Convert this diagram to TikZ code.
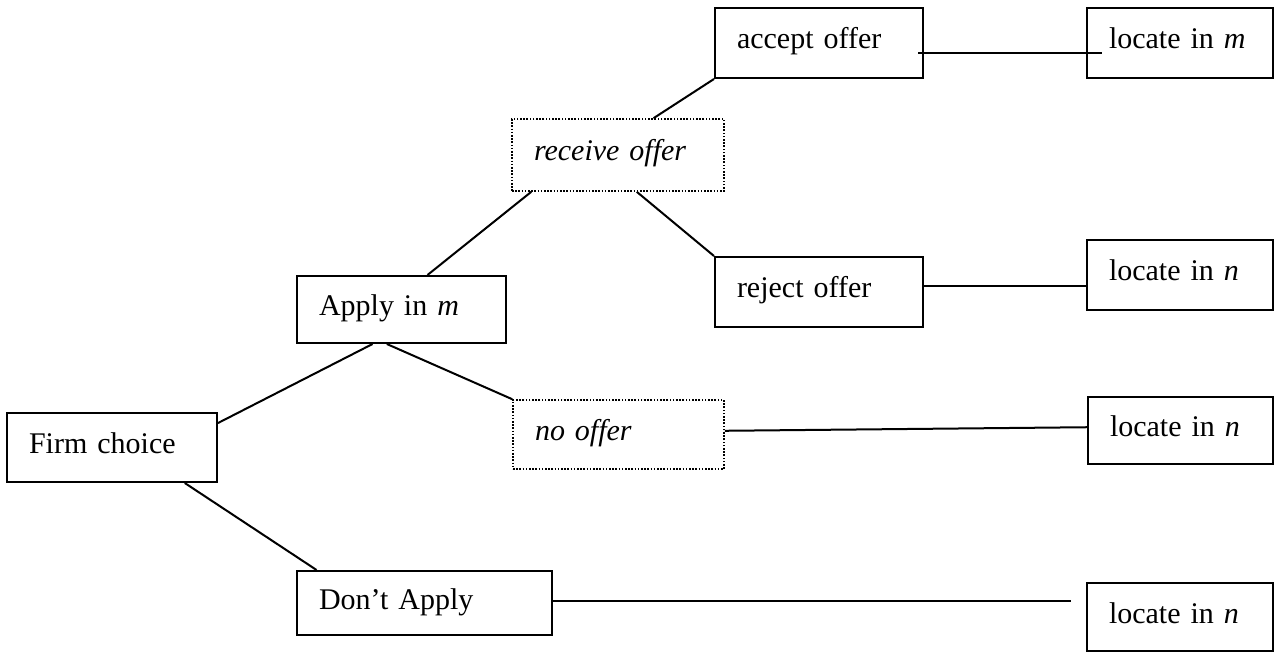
\documentclass[tikz,border=0pt]{standalone}
\usepackage{fontspec}
\setmainfont{Liberation Serif}
\usetikzlibrary{calc}

\begin{document}
\begin{tikzpicture}[x=0.5pt, y=-0.5pt,
        box/.style={draw, line width=1pt, rectangle, inner xsep=11pt, inner ysep=0pt,
            align=left, text height=12pt, text depth=6pt,
            font=\fontsize{15pt}{18pt}\selectfont},
        boxsize/.style 2 args={minimum width=#1pt, minimum height=#2pt, text width=#1pt-22pt},
        chance/.style={box, line width=0.8pt, dash pattern=on 0.8pt off 0.8pt},
        branch/.style={line width=1pt}]
        \useasboundingbox (0,0) rectangle (1274,652);
        % Draw the firm's own choices
        \node[box, boxsize={105}{34.5}] (firm) at (112,447.5) {Firm choice};
        \node[box, boxsize={104.5}{33.5}] (apply) at (401.5,309.5) {Apply in \textit{m}};
        \node[box, boxsize={127.5}{32}] (dont) at (424.5,603) {Don't Apply};
        % Draw the chance outcomes
        \node[chance, boxsize={106}{36}] (receive) at (618,155) {\textit{receive offer}};
        \node[chance, boxsize={105.5}{34.5}] (nooffer) at (618.5,434.5) {\textit{no offer}};
        \node[box, boxsize={104}{35}] (accept) at (819,43) {accept offer};
        \node[box, boxsize={104}{35}] (reject) at (819,292) {reject offer};
        % Draw the final locations
        \node[box, boxsize={93}{35}] (locm) at (1180,43) {locate in \textit{m}};
        \node[box, boxsize={93}{35}] (locn1) at (1180,275) {locate in \textit{n}};
        \node[box, boxsize={92.5}{33.5}] (locn2) at (1180.5,430.5) {locate in \textit{n}};
        \node[box, boxsize={93}{34}] (locn3) at (1180,617) {locate in \textit{n}};

        % Draw the branches
        \draw[branch] (firm.13) -- (apply.230);
        \draw[branch] (firm.-26) -- (dont.163);
        \draw[branch] (apply.53) -- (receive.203);
        \draw[branch] (apply.247) -- (nooffer.north west);
        \draw[branch] (receive.46) -- (accept.south west);
        \draw[branch] (receive.-63) -- (reject.north west);
        \draw[branch] ($(accept.east)+(-6,10)$) -- ($(locm.west)+(16,10)$);
        \draw[branch] (reject.3) -- (reject.3 -| locn1.west);
        \draw[branch] (nooffer.2) -- (locn2.178);
        \draw[branch] (dont.1) -- ($(dont.1 -| locn3.west)+(-15,0)$);
    \end{tikzpicture}
\end{document}
